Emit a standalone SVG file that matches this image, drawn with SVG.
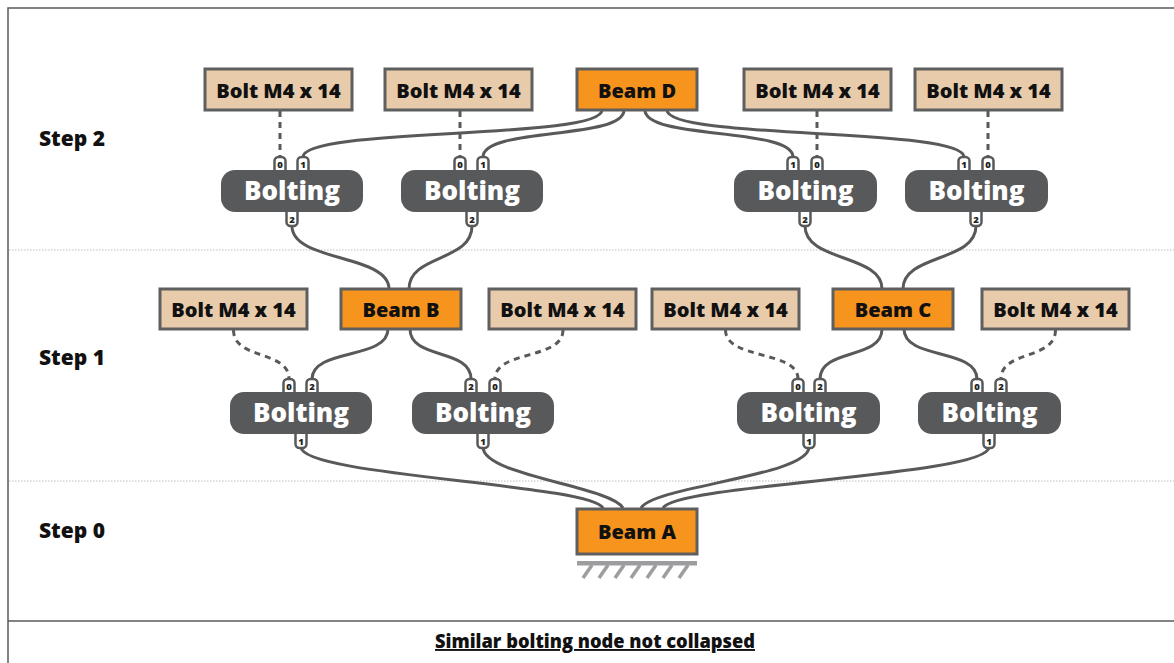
<svg xmlns="http://www.w3.org/2000/svg" width="1174" height="663" viewBox="0 0 1174 663">
  <style>
    .frame { fill: none; stroke: #5a5a5a; stroke-width: 1.5; }
    .sep { stroke: #bdbdbd; stroke-width: 1; stroke-dasharray: 1.5 1.5; }
    .step { font-family: "Open Sans", "Liberation Sans", sans-serif; font-weight: 800; font-size: 21px; fill: #111; }
    .bolt rect { fill: #e8cbab; stroke: #5f5f5f; stroke-width: 3; }
    .beam rect { fill: #f7941e; stroke: #5f5f5f; stroke-width: 3; }
    .bolt text, .beam text { font-family: "Open Sans", "Liberation Sans", sans-serif; font-weight: 800; font-size: 20px; fill: #111; text-anchor: middle; }
    .op .body { fill: #58595b; }
    .op .lbl { font-family: "Open Sans", "Liberation Sans", sans-serif; font-weight: 800; font-size: 26px; fill: #fff; text-anchor: middle; }
    .port { fill: #fff; stroke: #58595b; stroke-width: 2.5; }
    .pn { font-family: "Open Sans", "Liberation Sans", sans-serif; font-weight: 800; font-size: 9.5px; fill: #222; text-anchor: middle; }
    .wire { fill: none; stroke: #58595b; stroke-width: 3; }
    .dash { fill: none; stroke: #58595b; stroke-width: 3; stroke-dasharray: 6 5; }
    .ground { fill: #9d9d9f; }
    .hatch { stroke: #9d9d9f; stroke-width: 3.5; }
    .caption { font-family: "Open Sans", "Liberation Sans", sans-serif; font-weight: 800; font-size: 19px; fill: #111; text-anchor: middle; text-decoration: underline; }
  </style>
  <defs>
    <!-- port tabs: top tabs sit above a node, bottom tabs below it -->
    <rect id="tabTop" class="port" x="-5.5" y="0" width="11" height="22" rx="4"/>
    <rect id="tabBot" class="port" x="-5.5" y="-22" width="11" height="22" rx="4"/>
  </defs>

  <!-- frame and caption strip -->
  <rect class="frame" x="8" y="8" width="1180" height="700"/>
  <line class="frame" x1="8" y1="621" x2="1174" y2="621"/>
  <text class="caption" x="595" y="648" textLength="320" lengthAdjust="spacingAndGlyphs">Similar bolting node not collapsed</text>

  <!-- step separators -->
  <line class="sep" x1="9" y1="250" x2="1174" y2="250"/>
  <line class="sep" x1="9" y1="481" x2="1174" y2="481"/>

  <text class="step" x="39" y="146">Step 2</text>
  <text class="step" x="39" y="365">Step 1</text>
  <text class="step" x="39" y="538">Step 0</text>

  <!-- connectors -->
  <g id="connectors">
    <!-- Beam D to step 2 boltings -->
    <path class="wire" d="M602,110 C602,140 303,127 303,157"/>
    <path class="wire" d="M624,110 C624,140 483,127 483,157"/>
    <path class="wire" d="M645,110 C645,140 793,127 793,157"/>
    <path class="wire" d="M667,110 C667,140 964,127 964,157"/>
    <!-- bolts to step 2 boltings -->
    <path class="dash" d="M280,111 L280,157"/>
    <path class="dash" d="M460,111 L460,157"/>
    <path class="dash" d="M817,111 L817,157"/>
    <path class="dash" d="M988,111 L988,157"/>
    <!-- step 2 boltings to Beam B / Beam C -->
    <path class="wire" d="M292,226 C292,262 389,254 389,289"/>
    <path class="wire" d="M472,226 C472,262 409,254 409,289"/>
    <path class="wire" d="M805,226 C805,262 882,254 882,289"/>
    <path class="wire" d="M976,226 C976,262 903,254 903,289"/>
    <!-- Beam B / Beam C to step 1 boltings -->
    <path class="wire" d="M388,329 C388,360 312,348 312,379"/>
    <path class="wire" d="M410,329 C410,360 471,348 471,379"/>
    <path class="wire" d="M882,329 C882,360 820,348 820,379"/>
    <path class="wire" d="M904,329 C904,360 977,348 977,379"/>
    <!-- bolts to step 1 boltings -->
    <path class="dash" d="M233.5,330 C233.5,360 289,350 289,379"/>
    <path class="dash" d="M563,330 C563,360 495,350 495,379"/>
    <path class="dash" d="M725.5,330 C725.5,360 798,350 798,379"/>
    <path class="dash" d="M1055.5,330 C1055.5,360 1001,350 1001,379"/>
    <!-- step 1 boltings to Beam A -->
    <path class="wire" d="M301,447 C301,476 590,484 603,508"/>
    <path class="wire" d="M483,447 C483,476 610,486 623,508"/>
    <path class="wire" d="M809,447 C809,476 654,486 641,508"/>
    <path class="wire" d="M989,447 C989,476 676,484 663,508"/>
  </g>

  <!-- step 2 -->
  <g id="bolt-2a" class="bolt"><rect x="205" y="69" width="147" height="41"/><text x="278.5" y="98">Bolt M4 x 14</text></g>
  <g id="bolt-2b" class="bolt"><rect x="385" y="69" width="147" height="41"/><text x="458.5" y="98">Bolt M4 x 14</text></g>
  <g id="beam-d" class="beam"><rect x="577" y="69" width="120" height="41"/><text x="637" y="98">Beam D</text></g>
  <g id="bolt-2c" class="bolt"><rect x="744" y="69" width="147" height="41"/><text x="817.5" y="98">Bolt M4 x 14</text></g>
  <g id="bolt-2d" class="bolt"><rect x="915" y="69" width="147" height="41"/><text x="988.5" y="98">Bolt M4 x 14</text></g>

  <g id="bolting-2a" class="op">
    <use href="#tabTop" x="280" y="157"/><text class="pn" x="280" y="167.5">0</text>
    <use href="#tabTop" x="303" y="157"/><text class="pn" x="303" y="167.5">1</text>
    <use href="#tabBot" x="292" y="226"/><text class="pn" x="292" y="222.5">2</text>
    <rect class="body" x="221" y="170" width="142" height="42" rx="14"/>
    <text class="lbl" x="292" y="200">Bolting</text>
  </g>
  <g id="bolting-2b" class="op">
    <use href="#tabTop" x="460" y="157"/><text class="pn" x="460" y="167.5">0</text>
    <use href="#tabTop" x="483" y="157"/><text class="pn" x="483" y="167.5">1</text>
    <use href="#tabBot" x="472" y="226"/><text class="pn" x="472" y="222.5">2</text>
    <rect class="body" x="401" y="170" width="142" height="42" rx="14"/>
    <text class="lbl" x="472" y="200">Bolting</text>
  </g>
  <g id="bolting-2c" class="op">
    <use href="#tabTop" x="793" y="157"/><text class="pn" x="793" y="167.5">1</text>
    <use href="#tabTop" x="817" y="157"/><text class="pn" x="817" y="167.5">0</text>
    <use href="#tabBot" x="805" y="226"/><text class="pn" x="805" y="222.5">2</text>
    <rect class="body" x="734" y="170" width="143" height="42" rx="14"/>
    <text class="lbl" x="805.5" y="200">Bolting</text>
  </g>
  <g id="bolting-2d" class="op">
    <use href="#tabTop" x="964" y="157"/><text class="pn" x="964" y="167.5">1</text>
    <use href="#tabTop" x="988" y="157"/><text class="pn" x="988" y="167.5">0</text>
    <use href="#tabBot" x="976" y="226"/><text class="pn" x="976" y="222.5">2</text>
    <rect class="body" x="905" y="170" width="143" height="42" rx="14"/>
    <text class="lbl" x="976.5" y="200">Bolting</text>
  </g>

  <!-- step 1 -->
  <g id="bolt-1a" class="bolt"><rect x="160" y="289" width="147" height="40"/><text x="233.5" y="317">Bolt M4 x 14</text></g>
  <g id="beam-b" class="beam"><rect x="341" y="289" width="120" height="40"/><text x="401" y="317">Beam B</text></g>
  <g id="bolt-1b" class="bolt"><rect x="489" y="289" width="147" height="40"/><text x="562.5" y="317">Bolt M4 x 14</text></g>
  <g id="bolt-1c" class="bolt"><rect x="652" y="289" width="147" height="40"/><text x="725.5" y="317">Bolt M4 x 14</text></g>
  <g id="beam-c" class="beam"><rect x="833" y="289" width="120" height="40"/><text x="893" y="317">Beam C</text></g>
  <g id="bolt-1d" class="bolt"><rect x="982" y="289" width="147" height="40"/><text x="1055.5" y="317">Bolt M4 x 14</text></g>

  <g id="bolting-1a" class="op">
    <use href="#tabTop" x="289" y="379"/><text class="pn" x="289" y="389.5">0</text>
    <use href="#tabTop" x="312" y="379"/><text class="pn" x="312" y="389.5">2</text>
    <use href="#tabBot" x="301" y="448"/><text class="pn" x="301" y="444.5">1</text>
    <rect class="body" x="230" y="392" width="142" height="42" rx="14"/>
    <text class="lbl" x="301" y="422">Bolting</text>
  </g>
  <g id="bolting-1b" class="op">
    <use href="#tabTop" x="471" y="379"/><text class="pn" x="471" y="389.5">2</text>
    <use href="#tabTop" x="495" y="379"/><text class="pn" x="495" y="389.5">0</text>
    <use href="#tabBot" x="483" y="448"/><text class="pn" x="483" y="444.5">1</text>
    <rect class="body" x="412" y="392" width="142" height="42" rx="14"/>
    <text class="lbl" x="483" y="422">Bolting</text>
  </g>
  <g id="bolting-1c" class="op">
    <use href="#tabTop" x="798" y="379"/><text class="pn" x="798" y="389.5">0</text>
    <use href="#tabTop" x="820" y="379"/><text class="pn" x="820" y="389.5">2</text>
    <use href="#tabBot" x="809" y="448"/><text class="pn" x="809" y="444.5">1</text>
    <rect class="body" x="737" y="392" width="143" height="42" rx="14"/>
    <text class="lbl" x="808.5" y="422">Bolting</text>
  </g>
  <g id="bolting-1d" class="op">
    <use href="#tabTop" x="977" y="379"/><text class="pn" x="977" y="389.5">0</text>
    <use href="#tabTop" x="1001" y="379"/><text class="pn" x="1001" y="389.5">2</text>
    <use href="#tabBot" x="989" y="448"/><text class="pn" x="989" y="444.5">1</text>
    <rect class="body" x="918" y="392" width="143" height="42" rx="14"/>
    <text class="lbl" x="989.5" y="422">Bolting</text>
  </g>

  <!-- step 0: fixed base beam -->
  <g id="beam-a" class="beam">
    <rect x="577" y="509" width="120" height="45"/>
    <text x="637" y="539">Beam A</text>
  </g>
  <g id="ground">
    <rect class="ground" x="577" y="561" width="120" height="4.5"/>
    <line class="hatch" x1="592" y1="565" x2="583" y2="578"/>
    <line class="hatch" x1="608" y1="565" x2="599" y2="578"/>
    <line class="hatch" x1="624" y1="565" x2="615" y2="578"/>
    <line class="hatch" x1="640" y1="565" x2="631" y2="578"/>
    <line class="hatch" x1="656" y1="565" x2="647" y2="578"/>
    <line class="hatch" x1="672" y1="565" x2="663" y2="578"/>
    <line class="hatch" x1="688" y1="565" x2="679" y2="578"/>
  </g>
</svg>
